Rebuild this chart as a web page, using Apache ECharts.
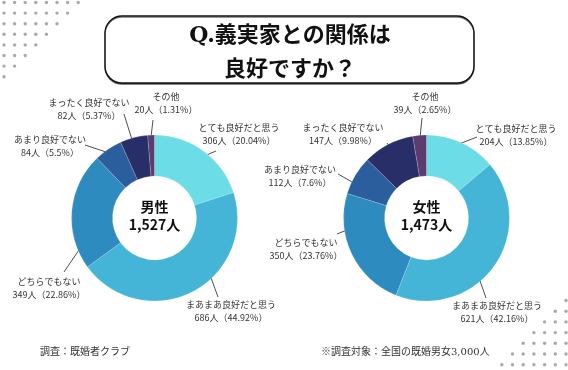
<!DOCTYPE html>
<html>
<head>
<meta charset="utf-8">
<script src="https://cdn.jsdelivr.net/npm/echarts@6/dist/echarts.min.js"></script>
<style>html,body{margin:0;padding:0;background:#fff;}#c{width:568px;height:370px;}</style>
</head>
<body>
<div id="c"></div>
<script>
// ---- data ----
const categories = ['とても良好だと思う', 'まあまあ良好だと思う', 'どちらでもない', 'あまり良好でない', 'まったく良好でない', 'その他'];
const groups = ['男性', '女性'];
const totals = ['1,527人', '1,473人'];
const maleCounts = [306, 686, 349, 84, 82, 20];
const malePct = ['20.04', '44.92', '22.86', '5.5', '5.37', '1.31'];
const femaleCounts = [204, 621, 350, 112, 147, 39];
const femalePct = ['13.85', '42.16', '23.76', '7.6', '9.98', '2.65'];
const titleLines = ['Q.義実家との関係は', '良好ですか？'];
const sourceText = '調査：既婚者クラブ';
const noteText = '※調査対象：全国の既婚男女3,000人';

// ---- styles / layout ----
const colors = ['#6cdde7', '#45b5d7', '#2e8bbf', '#2b5e9c', '#282f68', '#5d3b6f'];
const FONT = '"Noto Sans CJK JP", "Noto Sans", sans-serif';
const SERIF = '"DejaVu Serif", "Noto Sans CJK JP", serif';
const centers = [[154.5, 218], [426.5, 218]];
// label layout: [labelCenterX, labelCenterY, lineStartX, lineStartY, lineEndX, lineEndY]
const labelLayouts = [
  [
    [239, 134, 202, 157, 216, 151],
    [231, 311, 210, 275, 218, 297],
    [49, 288, 81, 247, 64, 272],
    [50, 146, 106, 152, 85, 145],
    [89, 109, 133, 143, 124, 114],
    [166, 103, 151, 137, 153, 120]
  ],
  [
    [516, 135, 459, 144, 477, 137],
    [497, 312, 478, 275, 486, 298],
    [306, 249, 352, 228, 337, 234],
    [300, 176, 352, 182, 338, 174],
    [343, 134, 394, 152, 387, 143],
    [425, 103, 420, 138, 422, 118]
  ]
];

const chart = echarts.init(document.getElementById('c'), null, { renderer: 'canvas' });

function makeSeries(si, counts, pcts) {
  return {
    type: 'pie',
    center: centers[si],
    radius: [42, 83],
    startAngle: 90,
    clockwise: true,
    avoidLabelOverlap: false,
    silent: true,
    itemStyle: { borderColor: 'rgba(255,255,255,0.35)', borderWidth: 0.5 },
    label: {
      show: true,
      position: 'outside',
      fontFamily: FONT,
      fontSize: 9,
      lineHeight: 13,
      color: '#333',
      align: 'center',
      formatter: p => p.name + '\n' + p.value + '人（' + pcts[p.dataIndex] + '%）'
    },
    labelLine: { show: true, length: 8, length2: 0, lineStyle: { color: '#222', width: 0.8 } },
    labelLayout: function (params) {
      const L = labelLayouts[si][params.dataIndex];
      return {
        x: L[0], y: L[1], align: 'center', verticalAlign: 'middle',
        labelLinePoints: [[L[2], L[3]], [L[4], L[5]], [L[4], L[5]]]
      };
    },
    data: categories.map((c, i) => ({ name: c, value: counts[i], itemStyle: { color: colors[i] } }))
  };
}

// decorative dots
const dots = [];
for (let i = 0; i < 8; i++) {
  for (let j = 0; j < 8 - i; j++) {
    dots.push({ type: 'circle', silent: true, shape: { cx: 4 + 10.6 * j, cy: 2.5 + 10.6 * i, r: 1.7 }, style: { fill: '#a9a9a9' } });
  }
}
for (let i = 0; i < 7; i++) {
  for (let j = 0; j <= i; j++) {
    dots.push({ type: 'circle', silent: true, shape: { cx: 566 - 10.7 * j, cy: 300.5 + 10.7 * i, r: 1.7 }, style: { fill: '#a9a9a9' } });
  }
}

const graphics = dots.concat([
  {
    type: 'rect', silent: true, z: 10,
    shape: { x: 105, y: 16, width: 369, height: 67, r: 17 },
    style: { fill: '#fff', stroke: '#111', lineWidth: 1.3, shadowColor: 'rgba(0,0,0,0.55)', shadowOffsetY: 1.2, shadowBlur: 0 }
  },
  { type: 'text', z: 11, silent: true, x: 290, y: 36, style: { text: titleLines[0], font: 'bold 22px ' + SERIF, fill: '#111', align: 'center', verticalAlign: 'middle' } },
  { type: 'text', z: 11, silent: true, x: 290, y: 70, style: { text: titleLines[1], font: 'bold 22px ' + SERIF, fill: '#111', align: 'center', verticalAlign: 'middle' } },
  { type: 'text', silent: true, x: 40, y: 352, style: { text: sourceText, font: '10px ' + SERIF, fill: '#333', align: 'left', verticalAlign: 'middle' } },
  { type: 'text', silent: true, x: 321, y: 352, style: { text: noteText, font: '10px ' + SERIF, fill: '#333', align: 'left', verticalAlign: 'middle' } }
]);
groups.forEach((g, i) => {
  graphics.push({ type: 'text', silent: true, z: 5, x: centers[i][0], y: centers[i][1] - 11, style: { text: g, font: 'bold 14px ' + FONT, fill: '#111', align: 'center', verticalAlign: 'middle' } });
  graphics.push({ type: 'text', silent: true, z: 5, x: centers[i][0], y: centers[i][1] + 7, style: { text: totals[i], font: 'bold 14px ' + FONT, fill: '#111', align: 'center', verticalAlign: 'middle' } });
});

chart.setOption({
  backgroundColor: '#fff',
  animation: false,
  series: [makeSeries(0, maleCounts, malePct), makeSeries(1, femaleCounts, femalePct)],
  graphic: graphics
});
</script>
</body>
</html>
